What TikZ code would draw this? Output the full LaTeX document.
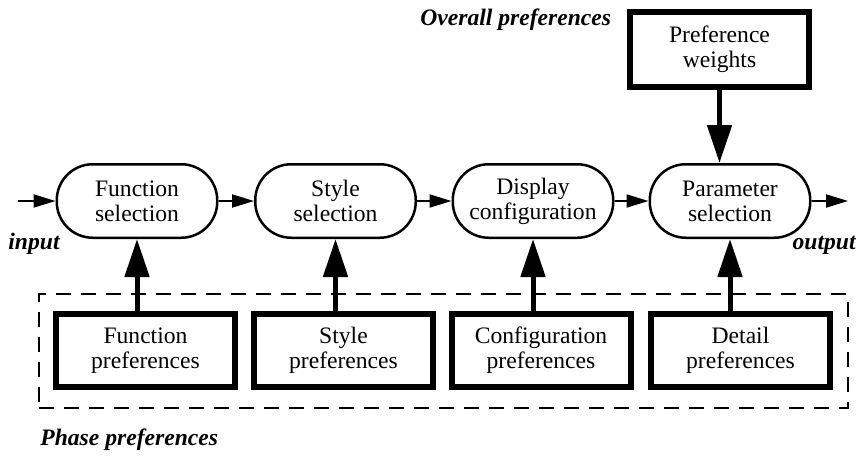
\documentclass[tikz,border=0pt]{standalone}
\usepackage{fontspec}
\setmainfont{Liberation Serif}
\usetikzlibrary{arrows.meta}
\begin{document}
\begin{tikzpicture}[x=0.5pt,y=-0.5pt,
  every node/.style={font=\fontsize{11.8}{12.5}\selectfont, align=center, inner sep=0pt},
  proc/.style={draw, line width=1.25pt, rounded corners=18pt, minimum width=80.25pt, minimum height=36.75pt},
  pref/.style={draw, line width=3pt, minimum width=89.5pt, minimum height=36.5pt},
  lbl/.style={font=\fontsize{11.8}{12.5}\selectfont\bfseries\itshape},
  flow/.style={line width=1pt, -{Triangle[length=11pt,width=6.5pt]}},
  feed/.style={line width=2.5pt, -{Triangle[length=19pt,width=12pt]}},
  group/.style={draw, line width=1pt, dash pattern=on 7.5pt off 5pt, minimum width=404.5pt, minimum height=57pt}
]
\useasboundingbox (0,0) rectangle (862,456);

% phase preferences group
\node[group] (phase) at (443.5,351) {};

% process stages
\node[proc] (fs) at (137,201) {Function\\selection};
\node[proc] (ss) at (335.5,201) {Style\\selection};
\node[proc] (dc) at (533,201) {Display\\configuration};
\node[proc] (ps) at (730,201) {Parameter\\selection};

% preference boxes
\node[pref] (fp) at (145.5,350.5) {Function\\preferences};
\node[pref] (sp) at (343.5,350.5) {Style\\preferences};
\node[pref] (cp) at (541,350.5) {Configuration\\preferences};
\node[pref] (dp) at (740.5,350.5) {Detail\\preferences};
\node[pref, minimum height=37.5pt] (pw) at (719.5,49.5) {Preference\\weights};

% labels
\node[lbl, anchor=base west] (ov) at (420,25) {Overall preferences};
\node[lbl, anchor=base west] (ph) at (40,445) {Phase preferences};
\node[lbl, anchor=base west] (inp) at (8,249) {input};
\node[lbl, anchor=base east] (outp) at (856,249) {output};

% flow arrows
\coordinate (in) at (18,201);
\coordinate (out) at (848,201);
\draw[flow] (in) -- (fs);
\draw[flow] (fs) -- (ss);
\draw[flow] (ss) -- (dc);
\draw[flow] (dc) -- (ps);
\draw[flow] (ps) -- (out);

% preference arrows
\draw[feed] (fp.north -| fs.south) -- (fs.south);
\draw[feed] (sp.north -| ss.south) -- (ss.south);
\draw[feed] (cp.north -| dc.south) -- (dc.south);
\draw[feed] (dp.north -| ps.south) -- (ps.south);
\draw[feed] (pw.south) -- (pw.south |- ps.north);
\end{tikzpicture}
\end{document}
